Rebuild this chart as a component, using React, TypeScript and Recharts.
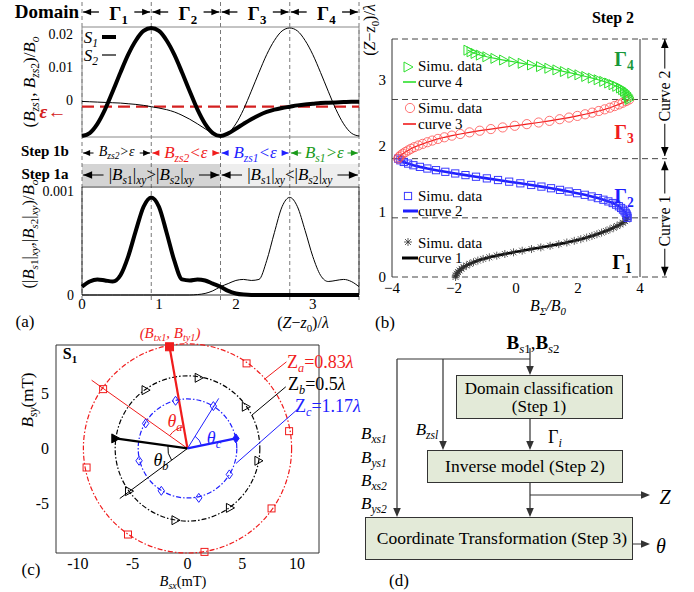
import React from 'react';
import {
  LineChart,
  Line,
  ComposedChart,
  ScatterChart,
  Scatter,
  XAxis,
  YAxis,
  ReferenceLine,
  ReferenceArea,
  ReferenceDot,
} from 'recharts';

const SERIF = "'Liberation Serif', 'Times New Roman', serif";
const RED = '#f01c1c';
const BLUE = '#1f1fff';
const GREEN = '#2ee02e';
const GREEN_TXT = '#17973a';

// ---------- (a) field along the track, sampled every 0.1 lambda ----------
const Z_TRACK = [0, 0.1, 0.2, 0.3, 0.4, 0.5, 0.6, 0.7, 0.8, 0.9, 1.0, 1.1, 1.2, 1.3, 1.4, 1.5, 1.6, 1.7, 1.8,
  1.9, 2.0, 2.1, 2.2, 2.3, 2.4, 2.5, 2.6, 2.7, 2.8, 2.9, 3.0, 3.1, 3.2, 3.3, 3.4, 3.5, 3.6];
const BZ_S1 = [-0.011, -0.0101, -0.0073, -0.0029, 0.0026, 0.0083, 0.0137, 0.018, 0.0209, 0.0218, 0.0209, 0.018,
  0.0137, 0.0083, 0.0026, -0.0029, -0.0073, -0.0101, -0.011, -0.0102, -0.0088, -0.0073, -0.0059, -0.0047,
  -0.0037, -0.003, -0.0025, -0.0021, -0.0017, -0.0014, -0.0012, -0.001, -0.0009, -0.0008, -0.0007, -0.0006, -0.0006];
const BZ_S2 = [-0.0005, -0.0006, -0.0007, -0.0008, -0.0009, -0.001, -0.0012, -0.0014, -0.0017, -0.0021, -0.0025,
  -0.003, -0.0037, -0.0047, -0.0059, -0.0073, -0.0088, -0.0102, -0.011, -0.0101, -0.0073, -0.0029, 0.0026,
  0.0083, 0.0137, 0.018, 0.0209, 0.0218, 0.0209, 0.018, 0.0137, 0.0083, 0.0026, -0.0029, -0.0073, -0.0101, -0.011];
const BXY_S1 = [0.00008, 0.00013, 0.00015, 0.00014, 0.00013, 0.00019, 0.00037, 0.00062, 0.00085, 0.00094,
  0.00085, 0.0006, 0.00033, 0.00015, 0.00014, 0.00015, 0.00014, 0.00011, 0.00008, 0.00004, 0.000015, 0.000004,
  0, 0, 0, 0, 0, 0, 0, 0, 0, 0, 0, 0, 0, 0, 0];
const BXY_S2 = [0, 0, 0, 0, 0, 0, 0, 0, 0, 0, 0, 0, 0, 0, 0, 0.000004, 0.000015, 0.00004, 0.00008, 0.00011,
  0.00014, 0.00015, 0.00014, 0.00015, 0.00033, 0.0006, 0.00085, 0.00094, 0.00085, 0.00062, 0.00037, 0.00019,
  0.00013, 0.00014, 0.00015, 0.00013, 0.00008];
const EPS = -0.0021;
const DOMAIN_EDGES = [0, 0.9, 1.8, 2.7, 3.6];
const BZ_DOMAIN = [-0.0113, 0.0221];
const BXY_DOMAIN = [0, 0.00104];
const BZ_TICKS = [-0.01, 0, 0.01, 0.02];
const BXY_TICKS = [0, 0.001];
const Z_TICKS = [0, 1, 2, 3];

// ---------- (b) inverse model curves, one point every 0.025 lambda ----------
const U_STEPS = [0, 0.025, 0.05, 0.075, 0.1, 0.125, 0.15, 0.175, 0.2, 0.225, 0.25, 0.275, 0.3, 0.325, 0.35,
  0.375, 0.4, 0.425, 0.45, 0.475, 0.5, 0.525, 0.55, 0.575, 0.6, 0.625, 0.65, 0.675, 0.7, 0.725, 0.75, 0.775,
  0.8, 0.825, 0.85, 0.875, 0.9];
const CURVE_START_Z = [0, 0.9, 1.8, 2.7];
const CURVE1_B = [-1.95, -1.94, -1.91, -1.87, -1.82, -1.76, -1.69, -1.6, -1.49, -1.37, -1.23, -1.06, -0.86,
  -0.62, -0.36, -0.08, 0.2, 0.5, 0.8, 1.1, 1.38, 1.64, 1.88, 2.09, 2.28, 2.45, 2.61, 2.76, 2.9, 3.03, 3.15,
  3.26, 3.36, 3.45, 3.52, 3.57, 3.6];
const CURVE2_B = [3.6, 3.59, 3.57, 3.54, 3.5, 3.45, 3.39, 3.32, 3.23, 3.12, 2.98, 2.82, 2.64, 2.44, 2.22, 1.97,
  1.7, 1.42, 1.13, 0.82, 0.49, 0.14, -0.22, -0.58, -0.94, -1.29, -1.63, -1.96, -2.28, -2.58, -2.86, -3.1,
  -3.31, -3.48, -3.62, -3.73, -3.8];
const CURVE3_B = [-3.8, -3.77, -3.72, -3.65, -3.57, -3.48, -3.39, -3.28, -3.15, -3.01, -2.86, -2.7, -2.52,
  -2.31, -2.07, -1.8, -1.5, -1.17, -0.81, -0.43, -0.04, 0.35, 0.73, 1.08, 1.41, 1.71, 1.98, 2.23, 2.46, 2.67,
  2.86, 3.03, 3.18, 3.32, 3.44, 3.55, 3.65];
const CURVE4_B = [3.65, 3.64, 3.62, 3.59, 3.55, 3.5, 3.44, 3.37, 3.25, 3.13, 2.99, 2.83, 2.65, 2.46, 2.25,
  2.03, 1.8, 1.56, 1.32, 1.06, 0.79, 0.5, 0.2, -0.1, -0.4, -0.68, -0.94, -1.15, -1.32, -1.45, -1.55];
const Z_LEVELS = [0, 0.9, 1.8, 2.7, 3.62];
const B_TICKS = [-4, -2, 0, 2, 4];

// ---------- (c) sensor-plane field at three distances ----------
const RING_R = [9.5, 6.6, 4.5];
const RED_MARKS = [{ x: 5.39, y: 7.73 }, { x: -7.7, y: 5.39 }, { x: 9.27, y: 1.57 }, { x: -9.21, y: -1.73 },
  { x: 7.67, y: -5.45 }, { x: -5.43, y: -7.82 }, { x: 1.55, y: -9.4 }];
const BLACK_MARKS = [{ x: 1.03, y: 6.42 }, { x: -3.82, y: 5.3 }, { x: 5.33, y: 3.79 }, { x: 6.48, y: -1.12 },
  { x: -5.33, y: -3.88 }, { x: 3.88, y: -5.4 }, { x: -1.09, y: -6.52 }];
const BLUE_MARKS = [{ x: -1.09, y: 4.33 }, { x: 2.36, y: 3.85 }, { x: -3.82, y: 2.27 }, { x: -4.42, y: -1.12 },
  { x: 3.82, y: -2.36 }, { x: -2.39, y: -3.85 }, { x: 1.03, y: -4.49 }];
const RED_TIP = { x: -1.64, y: 9.24 };
const BLACK_TIP = { x: -6.58, y: 0.91 };
const BLUE_TIP = { x: 4.42, y: 0.91 };
const RED_REF = { x: -8.75, y: 6.2 };
const BLACK_REF = { x: -6.18, y: -4.55 };
const BLUE_REF = { x: 2.85, y: 4.55 };
const RED_LEADER = [{ x: 9.03, y: 7.87 }, { x: 7.0, y: 6.27 }];
const BLACK_LEADER = [{ x: 8.97, y: 5.6 }, { x: 5.88, y: 3.03 }];
const BLUE_LEADER = [{ x: 10.03, y: 3.55 }, { x: 4.43, y: -1.36 }];

const fmtMinus = (v: number) => String(v).replace('-', '\u2212');
const tickStyle = (size: number) => ({ fill: '#000', fontSize: size, fontFamily: SERIF });

// pixel helpers for placing free text next to the plots
const ax = (v: number) => 82 + v * (277 / 3.6);
const bz = (z: number) => 277 - z * (238 / 3.62);

const Sub = ({ children }: { children: React.ReactNode }) => (
  <span style={{ fontSize: '0.68em', position: 'relative', top: '0.33em' }}>{children}</span>
);

type TxtProps = {
  x: number; y: number; size?: number; color?: string; bold?: boolean; italic?: boolean;
  rotate?: number; align?: 'left' | 'center'; children: React.ReactNode;
};
function Txt({ x, y, size = 15, color = '#000', bold, italic, rotate, align = 'center', children }: TxtProps) {
  const tx = align === 'center' ? '-50%' : '0';
  return (
    <div
      style={{
        position: 'absolute', left: x, top: y, fontSize: size, color, lineHeight: 1,
        fontWeight: bold ? 700 : 400, fontStyle: italic ? 'italic' : 'normal', whiteSpace: 'nowrap',
        transform: `translate(${tx},-50%)${rotate ? ` rotate(${rotate}deg)` : ''}`,
      }}
    >
      {children}
    </div>
  );
}

// filled arrow head with its tip on the reference point, pointing along (dx, dy) in screen space
function head(dx: number, dy: number, color: string, len: number) {
  return (p: any) => {
    const w = len * 0.42;
    const bx = p.cx - dx * len;
    const by = p.cy - dy * len;
    const nx = -dy * w;
    const ny = dx * w;
    return <path d={`M${p.cx},${p.cy}L${bx + nx},${by + ny}L${bx - nx},${by - ny}Z`} fill={color} />;
  };
}

function arrowPair(key: string, a: number, b: number, y: number, gap: number, color: string, w: number, len: number) {
  const m = (a + b) / 2;
  return [
    <ReferenceLine key={key + 'a'} segment={[{ x: a, y }, { x: m - gap, y }]} stroke={color} strokeWidth={w} ifOverflow="visible" />,
    <ReferenceLine key={key + 'b'} segment={[{ x: m + gap, y }, { x: b, y }]} stroke={color} strokeWidth={w} ifOverflow="visible" />,
    <ReferenceDot key={key + 'c'} x={a} y={y} ifOverflow="visible" shape={head(-1, 0, color, len)} />,
    <ReferenceDot key={key + 'd'} x={b} y={y} ifOverflow="visible" shape={head(1, 0, color, len)} />,
  ];
}

const STEP1B_COLORS = ['#000', RED, BLUE, '#1a9a1a'];
const STEP1B_GAPS = [0.3, 0.37, 0.37, 0.3];

// domain dividers, Step 1b / Step 1a bands above panel (a)
function HeaderStrip() {
  const spans = DOMAIN_EDGES.slice(0, -1).map((a, i) => [a + 0.015, DOMAIN_EDGES[i + 1] - 0.015]);
  return (
    <ComposedChart width={362} height={300} margin={{ top: 0, right: 3, bottom: 0, left: 82 }}>
      <XAxis type="number" dataKey="z" domain={[0, 3.6]} hide allowDataOverflow />
      <YAxis type="number" domain={[0, 300]} reversed hide allowDataOverflow />
      <ReferenceArea x1={0} x2={1.8} y1={164} y2={186} fill="#d4d4d4" fillOpacity={1} stroke="none" />
      <ReferenceArea x1={1.8} x2={3.6} y1={164} y2={186} fill="#eeeeee" fillOpacity={1} stroke="none" />
      {DOMAIN_EDGES.map((e) => (
        <ReferenceLine key={'div' + e} x={e} stroke="#555" strokeDasharray="4 3" strokeWidth={0.8} />
      ))}
      {spans.flatMap(([a, b], i) => arrowPair(`g${i}`, a, b, 12, 0.23, '#000', 1.3, 8))}
      {spans.flatMap(([a, b], i) => arrowPair(`s${i}`, a, b, 153, STEP1B_GAPS[i], STEP1B_COLORS[i], 1, 7))}
      {[[0.015, 1.785], [1.815, 3.585]].flatMap(([a, b], i) => arrowPair(`r${i}`, a, b, 175, 0.62, '#000', 1, 9))}
    </ComposedChart>
  );
}

function PanelA() {
  const topRows = Z_TRACK.map((z, i) => ({ z, s1: BZ_S1[i], s2: BZ_S2[i] }));
  const bottomRows = Z_TRACK.map((z, i) => ({ z, s1: BXY_S1[i], s2: BXY_S2[i] }));
  return (
    <>
      <div style={{ position: 'absolute', left: 0, top: 0 }}>
        <HeaderStrip />
      </div>
      <div style={{ position: 'absolute', left: 0, top: 0 }}>
        <LineChart width={362} height={140} data={topRows} margin={{ top: 27, right: 3, bottom: 3, left: 0 }}>
          <XAxis type="number" dataKey="z" domain={[0, 3.6]} hide />
          <YAxis
            type="number" domain={BZ_DOMAIN} ticks={BZ_TICKS} width={82} axisLine={false} tickLine={false}
            tickSize={0} tickMargin={9} tick={tickStyle(14)} tickFormatter={fmtMinus}
          />
          <ReferenceArea x1={0} x2={3.6} y1={BZ_DOMAIN[0]} y2={BZ_DOMAIN[1]} fill="none" stroke="#888" />
          <ReferenceLine y={EPS} stroke="#d42020" strokeWidth={2.2} strokeDasharray="12 6" />
          <Line type="monotone" dataKey="s2" stroke="#000" strokeWidth={1} dot={false} isAnimationActive={false} />
          <Line type="monotone" dataKey="s1" stroke="#000" strokeWidth={4} dot={false} isAnimationActive={false} />
        </LineChart>
      </div>
      <div style={{ position: 'absolute', left: 0, top: 160 }}>
        <LineChart width={362} height={160} data={bottomRows} margin={{ top: 27, right: 3, bottom: 0, left: 0 }}>
          <XAxis
            type="number" dataKey="z" domain={[0, 3.6]} ticks={Z_TICKS} height={25} axisLine={false}
            tickLine={false} tickSize={0} tickMargin={3} tick={tickStyle(15)}
          />
          <YAxis
            type="number" domain={BXY_DOMAIN} ticks={BXY_TICKS} width={82} axisLine={false} tickLine={false}
            tickSize={0} tickMargin={8} tick={tickStyle(14)}
          />
          <ReferenceArea x1={0} x2={3.6} y1={BXY_DOMAIN[0]} y2={BXY_DOMAIN[1]} fill="none" stroke="#333" />
          <Line type="monotone" dataKey="s2" stroke="#000" strokeWidth={1} dot={false} isAnimationActive={false} />
          <Line type="monotone" dataKey="s1" stroke="#000" strokeWidth={4} dot={false} isAnimationActive={false} />
        </LineChart>
      </div>

      <Txt x={47} y={11} size={19} bold>Domain</Txt>
      {DOMAIN_EDGES.slice(0, -1).map((a, i) => (
        <Txt key={'G' + i} x={ax((a + DOMAIN_EDGES[i + 1]) / 2) + 2} y={13} size={19} bold>
          Γ<Sub>{i + 1}</Sub>
        </Txt>
      ))}
      <Txt x={45} y={151} bold>Step 1b</Txt>
      <Txt x={45} y={174} bold>Step 1a</Txt>
      <Txt x={ax(0.45)} y={152} size={14} italic>B<Sub>zs2</Sub>&gt;ε</Txt>
      <Txt x={ax(1.35)} y={152} size={17} italic color={RED}>B<Sub>zs2</Sub>&lt;ε</Txt>
      <Txt x={ax(2.25)} y={152} size={17} italic color={BLUE}>B<Sub>zs1</Sub>&lt;ε</Txt>
      <Txt x={ax(3.15)} y={152} size={17} italic color="#1a9a1a">B<Sub>s1</Sub>&gt;ε</Txt>
      <Txt x={ax(0.9)} y={174} size={17}>|<i>B</i><Sub><i>s</i>1</Sub>|<Sub><i>xy</i></Sub>&gt;|<i>B</i><Sub><i>s</i>2</Sub>|<Sub><i>xy</i></Sub></Txt>
      <Txt x={ax(2.7)} y={174} size={17}>|<i>B</i><Sub><i>s</i>1</Sub>|<Sub><i>xy</i></Sub>&lt;|<i>B</i><Sub><i>s</i>2</Sub>|<Sub><i>xy</i></Sub></Txt>

      <Txt x={29} y={82} size={17} rotate={-90}>(<i>B</i><Sub><i>zs</i>1</Sub>, <i>B</i><Sub><i>zs</i>2</Sub>)/<i>B<Sub>o</Sub></i></Txt>
      <Txt x={29} y={234} size={16.5} rotate={-90}>(|<i>B</i><Sub><i>s</i>1</Sub>|<Sub><i>xy</i></Sub>,|<i>B</i><Sub><i>s</i>2</Sub>|<Sub><i>xy</i></Sub>)/<i>B<Sub>o</Sub></i></Txt>
      <Txt x={53} y={111} size={19} bold italic color="#d42020">ε<span style={{ fontStyle: 'normal', fontWeight: 400 }}>←</span></Txt>

      <Txt x={91} y={37} size={17} italic>S<Sub>1</Sub></Txt>
      <Txt x={91} y={55} size={17} italic>S<Sub>2</Sub></Txt>
      <svg style={{ position: 'absolute', left: 100, top: 30 }} width={20} height={32}>
        <line x1={2} x2={16} y1={7} y2={7} stroke="#000" strokeWidth={4} />
        <line x1={2} x2={16} y1={25} y2={25} stroke="#000" strokeWidth={1.2} />
      </svg>

      <Txt x={25} y={321} size={17}>(a)</Txt>
      <Txt x={303} y={323} size={16}>(<i>Z</i>−<i>z</i><Sub>0</Sub>)/<i>λ</i></Txt>
    </>
  );
}

// marker glyphs shared by panel (b) plot and its legend
const asterisk = (cx: number, cy: number) => (
  <path
    d={`M${cx - 4},${cy}H${cx + 4}M${cx},${cy - 4}V${cy + 4}M${cx - 3},${cy - 3}L${cx + 3},${cy + 3}M${cx - 3},${cy + 3}L${cx + 3},${cy - 3}`}
    stroke="#333" strokeWidth={0.8} fill="none"
  />
);
const square = (cx: number, cy: number, color: string, filled = false, s = 3.6) => (
  <rect x={cx - s} y={cy - s} width={2 * s} height={2 * s} fill={filled ? color : 'none'} stroke={color} strokeWidth={1} />
);
const ring = (cx: number, cy: number) => <circle cx={cx} cy={cy} r={4.6} fill="none" stroke="#ff5050" strokeWidth={0.8} />;
const triRight = (cx: number, cy: number, color: string, filled = false, s = 4.5) => (
  <path d={`M${cx - s * 0.8},${cy - s}L${cx + s},${cy}L${cx - s * 0.8},${cy + s}Z`} fill={filled ? color : 'none'} stroke={color} strokeWidth={1} />
);
const diamond = (cx: number, cy: number, color: string, filled = false) => (
  <path d={`M${cx},${cy - 4.5}L${cx + 3.2},${cy}L${cx},${cy + 4.5}L${cx - 3.2},${cy}Z`} fill={filled ? color : 'none'} stroke={color} strokeWidth={1} />
);

function Mark({ x, y, children }: { x: number; y: number; children: React.ReactNode }) {
  return (
    <svg style={{ position: 'absolute', left: x - 9, top: y - 9 }} width={18} height={18}>
      {children}
    </svg>
  );
}

function PanelB() {
  const curves = [CURVE1_B, CURVE2_B, CURVE3_B, CURVE4_B].map((bs, k) =>
    bs.map((b, i) => ({ b, z: CURVE_START_Z[k] + U_STEPS[i] })),
  );
  const annX = 4.8;
  return (
    <>
      <div style={{ position: 'absolute', left: 360, top: 0 }}>
        <ScatterChart width={334} height={300} margin={{ top: 39, right: 54, bottom: 0, left: 0 }}>
          <XAxis
            type="number" dataKey="b" domain={[-4, 4]} ticks={B_TICKS} height={23} axisLine={false}
            tickLine={false} tickSize={0} tickMargin={5} tick={tickStyle(15)} tickFormatter={fmtMinus}
          />
          <YAxis
            type="number" dataKey="z" domain={[0, 3.62]} ticks={Z_TICKS} width={32} axisLine={false}
            tickLine={false} tickSize={0} tickMargin={6} tick={tickStyle(15)}
          />
          {Z_LEVELS.map((z) => (
            <ReferenceLine
              key={'lvl' + z} segment={[{ x: -4, y: z }, { x: 4.87, y: z }]} ifOverflow="visible"
              stroke="#444" strokeDasharray="6 4" strokeWidth={1}
            />
          ))}
          <ReferenceLine x={-4} stroke="#333" />
          <ReferenceLine x={4} stroke="#333" />

          <ReferenceLine segment={[{ x: annX, y: 3.62 }, { x: annX, y: 3.17 }]} stroke="#000" ifOverflow="visible" />
          <ReferenceLine segment={[{ x: annX, y: 2.33 }, { x: annX, y: 1.84 }]} stroke="#000" ifOverflow="visible" />
          <ReferenceLine segment={[{ x: annX, y: 1.76 }, { x: annX, y: 1.27 }]} stroke="#000" ifOverflow="visible" />
          <ReferenceLine segment={[{ x: annX, y: 0.43 }, { x: annX, y: 0.02 }]} stroke="#000" ifOverflow="visible" />
          <ReferenceDot x={annX} y={3.62} ifOverflow="visible" shape={head(0, -1, '#000', 9)} />
          <ReferenceDot x={annX} y={1.84} ifOverflow="visible" shape={head(0, 1, '#000', 9)} />
          <ReferenceDot x={annX} y={1.76} ifOverflow="visible" shape={head(0, -1, '#000', 9)} />
          <ReferenceDot x={annX} y={0.02} ifOverflow="visible" shape={head(0, 1, '#000', 9)} />

          <Scatter data={curves[0]} line={{ stroke: '#000', strokeWidth: 2.6 }} lineType="joint"
            shape={(p: any) => asterisk(p.cx, p.cy)} isAnimationActive={false} />
          <Scatter data={curves[1]} line={{ stroke: BLUE, strokeWidth: 2.6 }} lineType="joint"
            shape={(p: any) => square(p.cx, p.cy, '#3a3aff')} isAnimationActive={false} />
          <Scatter data={curves[2]} line={{ stroke: RED, strokeWidth: 1.2 }} lineType="joint"
            shape={(p: any) => ring(p.cx, p.cy)} isAnimationActive={false} />
          <Scatter data={curves[3]} line={{ stroke: GREEN, strokeWidth: 1.2 }} lineType="joint"
            shape={(p: any) => triRight(p.cx, p.cy, GREEN, false, 5)} isAnimationActive={false} />
        </ScatterChart>
      </div>

      <Txt x={613} y={18} size={16} bold>Step 2</Txt>
      <Txt x={370} y={30} size={16} rotate={-90}>(<i>Z</i>−<i>z</i><Sub>0</Sub>)/<i>λ</i></Txt>
      <Txt x={548} y={306} size={16} italic>B<Sub>Σ</Sub>/B<Sub>0</Sub></Txt>
      <Txt x={385} y={322} size={17}>(b)</Txt>
      <Txt x={665} y={bz(2.75)} size={16} rotate={-90}>Curve 2</Txt>
      <Txt x={665} y={bz(0.85)} size={16} rotate={-90}>Curve 1</Txt>

      <Mark x={408} y={67}>{triRight(9, 9, GREEN, false, 5)}</Mark>
      <Txt x={418} y={66} size={15} align="left">Simu. data</Txt>
      <svg style={{ position: 'absolute', left: 402, top: 78 }} width={16} height={8}>
        <line x1={1} x2={14} y1={4} y2={4} stroke={GREEN} strokeWidth={1.6} />
      </svg>
      <Txt x={418} y={82} size={15} align="left">curve 4</Txt>
      <Mark x={410} y={108}>{ring(9, 9)}</Mark>
      <Txt x={418} y={108} size={15} align="left">Simu. data</Txt>
      <svg style={{ position: 'absolute', left: 402, top: 120 }} width={16} height={8}>
        <line x1={1} x2={14} y1={4} y2={4} stroke={RED} strokeWidth={1.6} />
      </svg>
      <Txt x={418} y={124} size={15} align="left">curve 3</Txt>
      <Mark x={408} y={196}>{square(9, 9, '#3a3aff')}</Mark>
      <Txt x={418} y={196} size={15} align="left">Simu. data</Txt>
      <svg style={{ position: 'absolute', left: 402, top: 207 }} width={18} height={8}>
        <line x1={1} x2={16} y1={4} y2={4} stroke={BLUE} strokeWidth={3} />
      </svg>
      <Txt x={418} y={211} size={15} align="left">curve 2</Txt>
      <Mark x={408} y={242}>{asterisk(9, 9)}</Mark>
      <Txt x={418} y={243} size={15} align="left">Simu. data</Txt>
      <svg style={{ position: 'absolute', left: 401, top: 254 }} width={18} height={8}>
        <line x1={1} x2={17} y1={4} y2={4} stroke="#000" strokeWidth={3} />
      </svg>
      <Txt x={418} y={258} size={15} align="left">curve 1</Txt>

      <Txt x={624} y={59} size={20} bold color={GREEN_TXT}>Γ<Sub>4</Sub></Txt>
      <Txt x={624} y={132} size={20} bold color={RED}>Γ<Sub>3</Sub></Txt>
      <Txt x={624} y={196} size={20} bold color={BLUE}>Γ<Sub>2</Sub></Txt>
      <Txt x={622} y={262} size={20} bold>Γ<Sub>1</Sub></Txt>
    </>
  );
}

// ring drawn into the square spanned by +/-R on both axes
const ringShape = (color: string) => (p: any) => {
  const w = Math.abs(p.width);
  const h = Math.abs(p.height);
  const x = Math.min(p.x, p.x + p.width);
  const y = Math.min(p.y, p.y + p.height);
  return (
    <ellipse cx={x + w / 2} cy={y + h / 2} rx={w / 2} ry={h / 2} fill="none" stroke={color}
      strokeWidth={1.2} strokeDasharray="5 2 1.5 2" />
  );
};

// angle arc between two directions, in the square spanned by +/-r
const arcShape = (color: string, from: { x: number; y: number }, to: { x: number; y: number }) => (p: any) => {
  const w = Math.abs(p.width);
  const h = Math.abs(p.height);
  const cx = Math.min(p.x, p.x + p.width) + w / 2;
  const cy = Math.min(p.y, p.y + p.height) + h / 2;
  const a0 = Math.atan2(from.y, from.x);
  const a1 = Math.atan2(to.y, to.x);
  const x0 = cx + (w / 2) * Math.cos(a0);
  const y0 = cy - (h / 2) * Math.sin(a0);
  const x1 = cx + (w / 2) * Math.cos(a1);
  const y1 = cy - (h / 2) * Math.sin(a1);
  return <path d={`M${x0},${y0}A${w / 2},${h / 2} 0 0 0 ${x1},${y1}`} fill="none" stroke={color} strokeWidth={1} />;
};

function PanelC() {
  const origin = { x: 0, y: 0 };
  const ringColors = [RED, '#000', BLUE];
  return (
    <>
      <div style={{ position: 'absolute', left: 0, top: 330 }}>
        <ScatterChart width={360} height={262} margin={{ top: 15, right: 41, bottom: 0, left: 0 }}>
          <XAxis
            type="number" dataKey="x" domain={[-12, 12]} ticks={[-10, -5, 0, 5, 10]} height={39} axisLine={false}
            tickLine={false} tickSize={0} tickMargin={5} tick={tickStyle(16)}
          />
          <YAxis
            type="number" dataKey="y" domain={[-9.5, 9.4]} ticks={[-5, 0, 5]} width={56} axisLine={false}
            tickLine={false} tickSize={0} tickMargin={7} tick={tickStyle(16)}
          />
          <ReferenceArea x1={-12} x2={12} y1={-9.5} y2={9.4} fill="none" stroke="#333" />
          {RING_R.map((r, i) => (
            <ReferenceArea key={'ring' + i} x1={-r} x2={r} y1={-r} y2={r} ifOverflow="visible" shape={ringShape(ringColors[i])} />
          ))}
          <ReferenceArea x1={-2} x2={2} y1={-2} y2={2} ifOverflow="visible" shape={arcShape(RED, RED_TIP, RED_REF)} />
          <ReferenceArea x1={-1.8} x2={1.8} y1={-1.8} y2={1.8} ifOverflow="visible" shape={arcShape('#000', BLACK_TIP, BLACK_REF)} />
          <ReferenceArea x1={-1.3} x2={1.3} y1={-1.3} y2={1.3} ifOverflow="visible" shape={arcShape(BLUE, BLUE_TIP, BLUE_REF)} />

          <ReferenceLine segment={[origin, RED_REF]} stroke={RED} strokeWidth={1} ifOverflow="visible" />
          <ReferenceLine segment={[origin, BLACK_REF]} stroke="#000" strokeWidth={1} ifOverflow="visible" />
          <ReferenceLine segment={[origin, BLUE_REF]} stroke={BLUE} strokeWidth={1} ifOverflow="visible" />
          <ReferenceLine segment={RED_LEADER} stroke={RED} strokeWidth={1} ifOverflow="visible" />
          <ReferenceLine segment={BLACK_LEADER} stroke="#000" strokeWidth={1} ifOverflow="visible" />
          <ReferenceLine segment={BLUE_LEADER} stroke={BLUE} strokeWidth={1} ifOverflow="visible" />
          <ReferenceLine segment={[origin, RED_TIP]} stroke={RED} strokeWidth={2.2} ifOverflow="visible" />
          <ReferenceLine segment={[origin, BLACK_TIP]} stroke="#000" strokeWidth={2.2} ifOverflow="visible" />
          <ReferenceLine segment={[origin, BLUE_TIP]} stroke={BLUE} strokeWidth={2.2} ifOverflow="visible" />

          <Scatter data={RED_MARKS} shape={(p: any) => square(p.cx, p.cy, RED, false, 3.5)} isAnimationActive={false} />
          <Scatter data={[RED_TIP]} shape={(p: any) => square(p.cx, p.cy, RED, true, 4)} isAnimationActive={false} />
          <Scatter data={BLACK_MARKS} shape={(p: any) => triRight(p.cx, p.cy, '#000', false, 4.5)} isAnimationActive={false} />
          <Scatter data={[BLACK_TIP]} shape={(p: any) => triRight(p.cx, p.cy, '#000', true, 4.5)} isAnimationActive={false} />
          <Scatter data={BLUE_MARKS} shape={(p: any) => diamond(p.cx, p.cy, BLUE)} isAnimationActive={false} />
          <Scatter data={[BLUE_TIP]} shape={(p: any) => diamond(p.cx, p.cy, BLUE, true)} isAnimationActive={false} />
        </ScatterChart>
      </div>

      <Txt x={170} y={333} size={15} italic color={RED}>(B<Sub>tx1</Sub>, B<Sub>ty1</Sub>)</Txt>
      <Txt x={70} y={354} size={16} bold>S<Sub>1</Sub></Txt>
      <Txt x={287} y={362} size={18} align="left" color={RED}>Z<Sub><i>a</i></Sub>=0.83<i>λ</i></Txt>
      <Txt x={288} y={384} size={18} align="left">Z<Sub><i>b</i></Sub>=0.5<i>λ</i></Txt>
      <Txt x={295} y={406} size={18} align="left" color={BLUE}>Z<Sub><i>c</i></Sub>=1.17<i>λ</i></Txt>
      <Txt x={175} y={421} size={18} italic color={RED}>θ<Sub>a</Sub></Txt>
      <Txt x={161} y={460} size={18} italic>θ<Sub>b</Sub></Txt>
      <Txt x={214} y={438} size={18} italic color={BLUE}>θ<Sub>c</Sub></Txt>
      <Txt x={27} y={400} size={17} rotate={-90}><i>B</i><Sub><i>sy</i></Sub>(mT)</Txt>
      <Txt x={183} y={581} size={14.5}><i>B</i><Sub><i>sx</i></Sub>(mT)</Txt>
      <Txt x={31} y={569} size={17}>(c)</Txt>
    </>
  );
}

const boxStyle = (left: number, top: number, right: number, bottom: number): React.CSSProperties => ({
  position: 'absolute', left, top, width: right - left, height: bottom - top, boxSizing: 'border-box',
  background: '#e3ead8', border: '1.3px solid #333',
});

function FlowChart() {
  const arrow = (x: number, y: number, dx: number, dy: number) => {
    const len = 9;
    const w = 3.8;
    const bx = x - dx * len;
    const by = y - dy * len;
    return <path d={`M${x},${y}L${bx - dy * w},${by + dx * w}L${bx + dy * w},${by - dx * w}Z`} fill="#333" />;
  };
  return (
    <>
      <div style={boxStyle(456, 375, 623, 419)} />
      <div style={boxStyle(427, 450, 623, 483)} />
      <div style={boxStyle(365, 517, 633, 560)} />
      <svg style={{ position: 'absolute', left: 0, top: 0 }} width={694} height={592}>
        <g stroke="#333" strokeWidth={1.2} fill="none">
          <path d="M530,348V367M397,359H530M397,359V509M443,359V442M530,419V442M530,483V509M530,495H642M633,544H642" />
        </g>
        {arrow(530, 375, 0, 1)}
        {arrow(397, 517, 0, 1)}
        {arrow(443, 450, 0, 1)}
        {arrow(530, 450, 0, 1)}
        {arrow(530, 517, 0, 1)}
        {arrow(650, 495, 1, 0)}
        {arrow(650, 544, 1, 0)}
      </svg>
      <Txt x={539} y={388} size={17}>Domain classification</Txt>
      <Txt x={539} y={406} size={17}>(Step 1)</Txt>
      <Txt x={525} y={467} size={17.5}>Inverse model (Step 2)</Txt>
      <Txt x={502} y={539} size={17.5}>Coordinate Transformation (Step 3)</Txt>
      <Txt x={533} y={342} size={19}><b>B</b><Sub><i>s</i>1</Sub>,<b>B</b><Sub><i>s</i>2</Sub></Txt>
      <Txt x={555} y={437} size={18}>Γ<Sub><i>i</i></Sub></Txt>
      <Txt x={427} y={429} size={17} italic>B<Sub>zsl</Sub></Txt>
      <Txt x={374} y={433} size={17} italic>B<Sub>xs1</Sub></Txt>
      <Txt x={374} y={457} size={17} italic>B<Sub>ys1</Sub></Txt>
      <Txt x={374} y={480} size={17} italic>B<Sub>xs2</Sub></Txt>
      <Txt x={374} y={503} size={17} italic>B<Sub>ys2</Sub></Txt>
      <Txt x={665} y={497} size={20} italic>Z</Txt>
      <Txt x={661} y={546} size={20} italic>θ</Txt>
      <Txt x={399} y={580} size={17}>(d)</Txt>
    </>
  );
}

export default function App() {
  return (
    <div
      style={{
        position: 'absolute', left: 0, top: 0, width: 694, height: 592, background: '#fff',
        fontFamily: SERIF, overflow: 'hidden',
      }}
    >
      <PanelA />
      <PanelB />
      <PanelC />
      <FlowChart />
    </div>
  );
}
